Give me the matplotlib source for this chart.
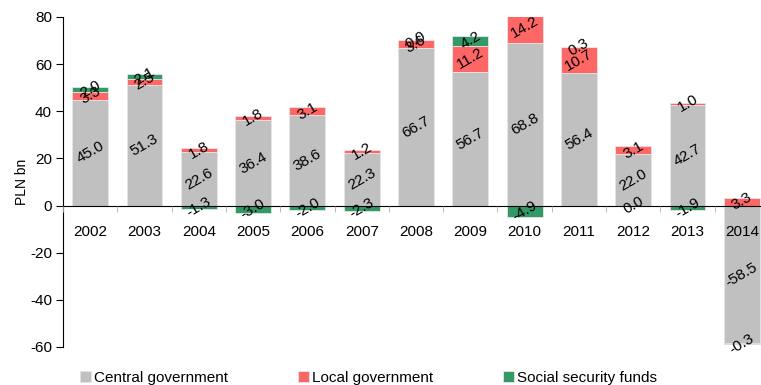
import numpy as np
import matplotlib.pyplot as plt

plt.rcParams.update({'font.family': ['Liberation Sans', 'DejaVu Sans'],
                     'font.size': 9.5,
                     'axes.unicode_minus': False})

years = ["2002", "2003", "2004", "2005", "2006", "2007", "2008",
         "2009", "2010", "2011", "2012", "2013", "2014"]
central = [45.0, 51.3, 22.6, 36.4, 38.6, 22.3, 66.7, 56.7, 68.8, 56.4, 22.0, 42.7, -58.5]
local = [3.3, 2.5, 1.8, 1.8, 3.1, 1.2, 3.6, 11.2, 14.2, 10.7, 3.1, 1.0, 3.3]
social = [2.0, 2.1, -1.3, -3.0, -2.0, -2.3, 0.0, 4.2, -4.9, 0.3, -0.0, -1.9, -0.3]

series = [("Central government", central, "#C0C0C0"),
          ("Local government", local, "#FF6666"),
          ("Social security funds", social, "#339966")]

fig = plt.figure(figsize=(7.61, 3.85), dpi=100)
ax = fig.add_axes([63/761, 38/385, 706/761, 330/385])

x = np.arange(len(years))
pos_base = np.zeros(len(years))
neg_base = np.zeros(len(years))
handles = []
for name, vals, col in series:
    vals = np.array(vals)
    neg = np.signbit(vals)
    bottom = np.where(neg, neg_base, pos_base)
    b = ax.bar(x, vals, 0.66, bottom=bottom, color=col, edgecolor="#E6E6E6",
               linewidth=0.6, label=name, zorder=2)
    handles.append(b)
    for xi, v, bo in zip(x, vals, bottom):
        txt = f"{v:.1f}"
        if txt == "-0.0":
            txt = "0.0"
        ax.text(xi, bo + v / 2, txt, rotation=30, ha="center", va="center",
                fontsize=11, zorder=3)
    pos_base = np.where(neg, pos_base, pos_base + vals)
    neg_base = np.where(neg, neg_base + vals, neg_base)

ax.set_xlim(-0.5, 12.5)
ax.set_ylim(-60, 80)
ax.set_yticks(range(-60, 81, 20))
ax.tick_params(axis="y", length=5, labelsize=11, pad=3)

ax.spines["top"].set_visible(False)
ax.spines["right"].set_visible(False)
ax.spines["bottom"].set_position(("data", 0))
ax.spines["bottom"].set_zorder(4)
ax.xaxis.set_zorder(4)
ax.set_xticks(x)
ax.set_xticklabels(years, fontsize=11)
ax.set_xticks(np.arange(-0.5, 12.6, 1), minor=True)
ax.tick_params(axis="x", which="major", length=0, pad=14)
ax.tick_params(axis="x", which="minor", length=4, color="#B0B0B0")

ax.set_ylabel("PLN bn", fontsize=10, labelpad=1)

fig.legend(handles=handles, loc="center", ncol=3, frameon=False,
           bbox_to_anchor=(0.484, 0.018), fontsize=11, handlelength=0.7,
           handleheight=0.7, handletextpad=0.2, columnspacing=4.6)

plt.savefig("out.png", dpi=100)
